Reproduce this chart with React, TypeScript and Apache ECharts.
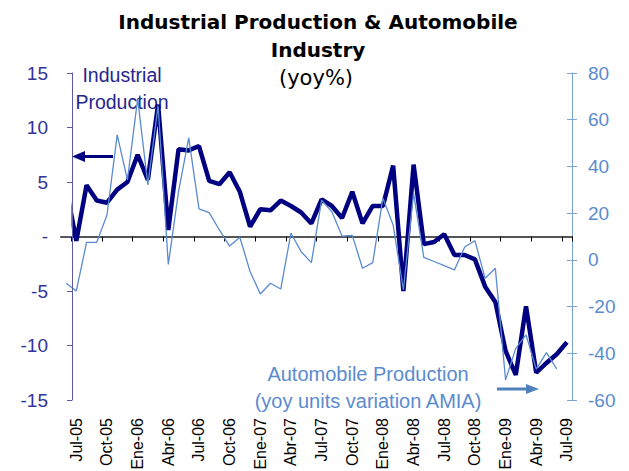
import React, { useEffect, useRef } from "react";
import * as echarts from "echarts";

const months = [
  "Jun-05", "Jul-05", "Ago-05", "Sep-05", "Oct-05", "Nov-05", "Dic-05",
  "Ene-06", "Feb-06", "Mar-06", "Abr-06", "May-06", "Jun-06", "Jul-06", "Ago-06", "Sep-06", "Oct-06", "Nov-06", "Dic-06",
  "Ene-07", "Feb-07", "Mar-07", "Abr-07", "May-07", "Jun-07", "Jul-07", "Ago-07", "Sep-07", "Oct-07", "Nov-07", "Dic-07",
  "Ene-08", "Feb-08", "Mar-08", "Abr-08", "May-08", "Jun-08", "Jul-08", "Ago-08", "Sep-08", "Oct-08", "Nov-08", "Dic-08",
  "Ene-09", "Feb-09", "Mar-09", "Abr-09", "May-09", "Jun-09", "Jul-09",
];

// Industrial production, yoy % (left axis)
const industrialProduction = [
  4.5, -0.4, 4.7, 3.3, 3.1, 4.3, 5.0,
  7.5, 5.2, 12.1, 0.6, 8.0, 7.9, 8.3, 5.1, 4.8, 5.9, 4.1, 0.9,
  2.5, 2.4, 3.3, 2.8, 2.2, 1.2, 3.4, 2.8, 1.7, 4.1, 1.2, 2.8,
  2.8, 6.5, -5.0, 6.6, -0.7, -0.5, 0.2, -1.7, -1.7, -2.1, -4.6, -6.0,
  -10.5, -12.7, -6.4, -12.5, -11.6, -10.8, -9.7,
];

// Automobile production, yoy units variation AMIA (right axis)
const automobileProduction = [
  -10.0, -13.3, 7.5, 7.5, 19.2, 53.5, 34.2,
  69.0, 32.1, 66.0, -2.0, 29.2, 52.2, 21.8, 20.2, 12.8, 5.9, 9.7, -5.0,
  -14.6, -10.0, -12.5, 11.4, 3.5, -1.2, 25.6, 20.6, 10.2, 10.5, -3.6, -1.2,
  26.4, 14.9, -12.9, 28.5, 1.1, -0.7, -2.5, -4.3, 5.5, 8.2, -7.9, -3.6,
  -51.4, -37.9, -32.1, -46.8, -39.7, -46.7, null,
];

const leftTicks = { min: -15, max: 15, interval: 5 };
const rightTicks = { min: -60, max: 80, interval: 20 };

const NAVY = "#000080";
const NAVY_TEXT = "#26268C";
const LEFT_AXIS = "#333399";
const LIGHT = "#5B8BCF";
const ARIAL = '"Liberation Sans", Arial, sans-serif';
const VERDANA = '"DejaVu Sans", Verdana, sans-serif';

const showEvery3 = (i: number) => i >= 1 && (i - 1) % 3 === 0;

export default function App() {
  const ref = useRef<HTMLDivElement>(null);

  useEffect(() => {
    if (!ref.current) return;
    const chart = echarts.init(ref.current, undefined, { renderer: "svg" });
    chart.setOption({
      animation: false,
      backgroundColor: "#ffffff",
      grid: {
        left: 61, right: 57, top: 73, bottom: 71,
        containLabel: false,
        outerBoundsMode: "none",
      },
      xAxis: [
        {
          type: "category",
          data: months,
          position: "bottom",
          boundaryGap: true,
          axisLine: { show: false, onZero: false },
          axisTick: { show: false },
          splitLine: { show: false },
          axisLabel: {
            interval: (i: number) => showEvery3(i),
            rotate: 90,
            margin: 18,
            fontSize: 16,
            fontFamily: ARIAL,
            color: "#000000",
          },
        },
        {
          type: "category",
          data: months,
          position: "bottom",
          boundaryGap: true,
          axisLine: {
            show: true,
            onZero: true,
            onZeroAxisIndex: 0,
            lineStyle: { color: "#555555", width: 2 },
          },
          axisTick: {
            show: true,
            interval: (i: number) => showEvery3(i),
            length: 5,
            lineStyle: { color: "#000000", width: 1 },
          },
          axisLabel: { show: false },
          splitLine: { show: false },
        },
      ],
      yAxis: [
        {
          type: "value",
          position: "left",
          offset: -11,
          z: 10,
          min: leftTicks.min,
          max: leftTicks.max,
          interval: leftTicks.interval,
          axisLine: { show: true, onZero: false, lineStyle: { color: "#5A5AA8", width: 1 } },
          axisTick: { show: true, length: 5, lineStyle: { color: "#5A5AA8" } },
          splitLine: { show: false },
          axisLabel: {
            formatter: (v: number) => (v === 0 ? "-" : String(v)),
            margin: 24,
            fontSize: 19,
            fontFamily: ARIAL,
            color: LEFT_AXIS,
          },
        },
        {
          type: "value",
          position: "right",
          min: rightTicks.min,
          max: rightTicks.max,
          interval: rightTicks.interval,
          axisLine: { show: true, onZero: false, lineStyle: { color: "#7BA3D8", width: 1 } },
          axisTick: { show: true, length: 5, lineStyle: { color: "#7BA3D8" } },
          splitLine: { show: false },
          axisLabel: {
            margin: 16,
            fontSize: 19,
            fontFamily: ARIAL,
            color: LIGHT,
          },
        },
        {
          type: "value",
          position: "right",
          min: rightTicks.min,
          max: rightTicks.max,
          interval: rightTicks.interval,
          axisLine: { show: false, onZero: false },
          axisTick: { show: true, inside: true, length: 5, lineStyle: { color: "#7BA3D8" } },
          splitLine: { show: false },
          axisLabel: { show: false },
        },
      ],
      series: [
        {
          name: "Industrial Production",
          type: "line",
          xAxisIndex: 0,
          yAxisIndex: 0,
          data: industrialProduction,
          showSymbol: false,
          symbol: "none",
          lineStyle: { color: NAVY, width: 4.5 },
          z: 3,
        },
        {
          name: "Automobile Production",
          type: "line",
          xAxisIndex: 0,
          yAxisIndex: 1,
          data: automobileProduction,
          showSymbol: false,
          symbol: "none",
          connectNulls: false,
          lineStyle: { color: "#5A8AD0", width: 1.3 },
          z: 4,
        },
      ],
      graphic: [
        {
          type: "rect", z: 6,
          shape: { x: 55, y: 160, width: 16.5, height: 72 },
          style: { fill: "#ffffff" },
        },
        {
          type: "text", x: 318, y: 22, z: 0,
          style: {
            text: "Industrial Production & Automobile",
            font: `bold 20px ${VERDANA}`, fill: "#000000",
            textAlign: "center", textVerticalAlign: "middle",
            align: "center", verticalAlign: "middle",
          },
        },
        {
          type: "text", x: 318, y: 49.5, z: 0,
          style: {
            text: "Industry",
            font: `bold 20px ${VERDANA}`, fill: "#000000",
            textAlign: "center", textVerticalAlign: "middle",
            align: "center", verticalAlign: "middle",
          },
        },
        {
          type: "text", x: 316, y: 78, z: 0,
          style: {
            text: "(yoy%)",
            font: `21px ${VERDANA}`, fill: "#000000",
            textAlign: "center", textVerticalAlign: "middle",
            align: "center", verticalAlign: "middle",
          },
        },
        {
          type: "text", x: 122, y: 74.5, z: 0,
          style: {
            text: "Industrial",
            font: `19.5px ${ARIAL}`, fill: NAVY_TEXT,
            textAlign: "center", textVerticalAlign: "middle",
            align: "center", verticalAlign: "middle",
          },
        },
        {
          type: "text", x: 122, y: 101.5, z: 0,
          style: {
            text: "Production",
            font: `19.5px ${ARIAL}`, fill: NAVY_TEXT,
            textAlign: "center", textVerticalAlign: "middle",
            align: "center", verticalAlign: "middle",
          },
        },
        {
          type: "text", x: 368, y: 374, z: 0,
          style: {
            text: "Automobile Production",
            font: `20px ${ARIAL}`, fill: LIGHT,
            textAlign: "center", textVerticalAlign: "middle",
            align: "center", verticalAlign: "middle",
          },
        },
        {
          type: "text", x: 368, y: 400.5, z: 0,
          style: {
            text: "(yoy units variation AMIA)",
            font: `20px ${ARIAL}`, fill: LIGHT,
            textAlign: "center", textVerticalAlign: "middle",
            align: "center", verticalAlign: "middle",
          },
        },
        {
          type: "line", z: 5,
          shape: { x1: 83, y1: 156.5, x2: 113, y2: 156.5 },
          style: { stroke: NAVY, lineWidth: 3 },
        },
        {
          type: "polygon", z: 5,
          shape: { points: [[72, 156.5], [85, 151], [85, 162]] },
          style: { fill: NAVY },
        },
        {
          type: "line", z: 5,
          shape: { x1: 497, y1: 389, x2: 528, y2: 389 },
          style: { stroke: "#4F81BD", lineWidth: 3 },
        },
        {
          type: "polygon", z: 5,
          shape: { points: [[539, 389], [526, 384], [526, 394]] },
          style: { fill: "#4F81BD" },
        },
      ],
    });
    return () => chart.dispose();
  }, []);

  return (
    <div
      ref={ref}
      style={{ position: "fixed", left: 0, top: 0, width: 629, height: 471, background: "#fff" }}
    />
  );
}
